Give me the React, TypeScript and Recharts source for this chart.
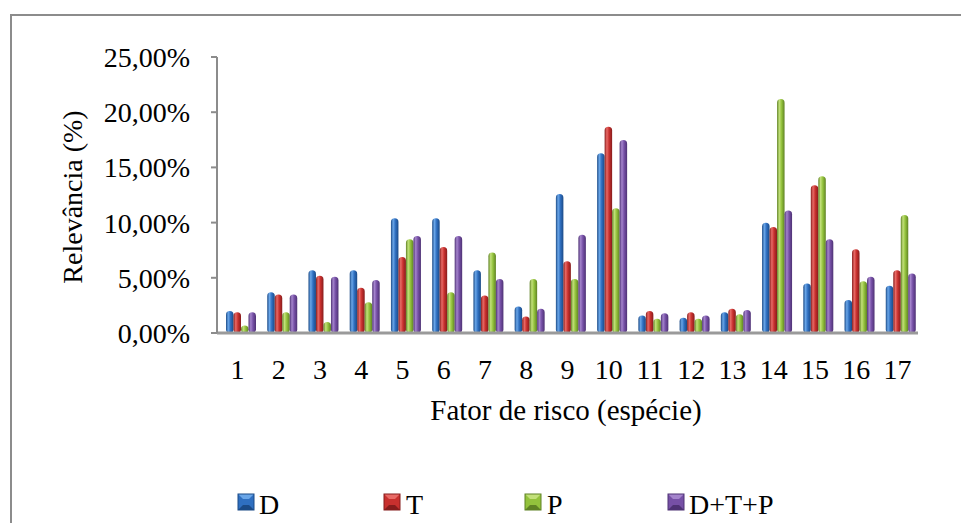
import { BarChart, Bar, XAxis, YAxis } from 'recharts';

const fatores = ['1', '2', '3', '4', '5', '6', '7', '8', '9', '10', '11', '12', '13', '14', '15', '16', '17'];
const serieD = [1.9, 3.6, 5.6, 5.6, 10.3, 10.3, 5.6, 2.3, 12.5, 16.2, 1.5, 1.3, 1.8, 9.9, 4.4, 2.9, 4.2];
const serieT = [1.8, 3.4, 5.1, 4.0, 6.8, 7.7, 3.3, 1.4, 6.4, 18.6, 1.9, 1.8, 2.1, 9.5, 13.3, 7.5, 5.6];
const serieP = [0.6, 1.8, 0.9, 2.7, 8.4, 3.6, 7.2, 4.8, 4.8, 11.2, 1.2, 1.2, 1.6, 21.1, 14.1, 4.6, 10.6];
const serieDTP = [1.8, 3.4, 5.0, 4.7, 8.7, 8.7, 4.8, 2.1, 8.8, 17.4, 1.7, 1.5, 2.0, 11.0, 8.4, 5.0, 5.3];
const yTicks = [0, 5, 10, 15, 20, 25];

const chartData = fatores.map((f, i) => ({
  fator: f,
  D: serieD[i],
  T: serieT[i],
  P: serieP[i],
  DTP: serieDTP[i],
}));

const FONT = '"Liberation Serif", "Times New Roman", serif';

// cores de cada série: escura, clara, base
const cores: Record<string, [string, string, string]> = {
  D: ['#1b4a86', '#6aa6e8', '#2f6fc0'],
  T: ['#861c1c', '#e86a66', '#c8302e'],
  P: ['#5f8224', '#c2e07a', '#93c23c'],
  DTP: ['#4e3274', '#a484cc', '#7650a6'],
};

const legenda = [
  { key: 'D', nome: 'D', xq: 238, xt: 259 },
  { key: 'T', nome: 'T', xq: 384, xt: 406 },
  { key: 'P', nome: 'P', xq: 525, xt: 547 },
  { key: 'DTP', nome: 'D+T+P', xq: 668, xt: 689 },
];

const Cilindro = (props: any) => {
  const { x, y, width, height, gid } = props;
  if (!height || height <= 0) return null;
  const r = width / 2;
  return (
    <rect
      x={x + 3}
      y={y - 1}
      width={width}
      height={height + 1}
      rx={r}
      ry={Math.min(r, (height + 1) / 2)}
      fill={`url(#${gid})`}
    />
  );
};

const formatPct = (v: number) => v.toFixed(2).replace('.', ',') + '%';

export default function App() {
  return (
    <div style={{ position: 'absolute', left: 0, top: 0, width: 961, height: 523, background: '#fff', overflow: 'hidden' }}>
      <div
        style={{
          position: 'absolute',
          left: 10,
          top: 14,
          width: 1000,
          height: 600,
          borderLeft: '2px solid #8c8c8c',
          borderTop: '2px solid #8c8c8c',
        }}
      />
      <div style={{ position: 'absolute', left: 0, top: 0 }}>
        <BarChart
          width={961}
          height={523}
          data={chartData}
          margin={{ top: 57, right: 43, bottom: 150, left: 0 }}
          barGap={0}
          barSize={7.5}
        >
          <defs>
            {Object.keys(cores).map((k) => (
              <linearGradient key={k} id={`grad-${k}`} x1="0" y1="0" x2="1" y2="0">
                <stop offset="0%" stopColor={cores[k][0]} />
                <stop offset="30%" stopColor={cores[k][1]} />
                <stop offset="60%" stopColor={cores[k][2]} />
                <stop offset="100%" stopColor={cores[k][0]} />
              </linearGradient>
            ))}
          </defs>
          <XAxis
            dataKey="fator"
            height={40}
            tickLine={false}
            tickSize={0}
            tickMargin={26}
            axisLine={{ stroke: '#9a9a9a', strokeWidth: 3 }}
            tick={{ fill: '#000', fontSize: 28, fontFamily: FONT }}
            interval={0}
          />
          <YAxis
            width={217}
            domain={[0, 25]}
            ticks={yTicks}
            tickFormatter={formatPct}
            tickSize={6}
            tickMargin={21}
            axisLine={{ stroke: '#8c8c8c', strokeWidth: 2 }}
            tickLine={{ stroke: '#8c8c8c', strokeWidth: 2 }}
            tick={{ fill: '#000', fontSize: 28, fontFamily: FONT }}
          />
          {Object.keys(cores).map((k) => (
            <Bar
              key={k}
              dataKey={k}
              isAnimationActive={false}
              fill={cores[k][2]}
              shape={(p: any) => <Cilindro {...p} gid={`grad-${k}`} />}
            />
          ))}
        </BarChart>
      </div>
      <svg width={961} height={523} style={{ position: 'absolute', left: 0, top: 0, pointerEvents: 'none' }}>
        <text
          x={0}
          y={0}
          transform="translate(72,197) rotate(-90)"
          textAnchor="middle"
          dominantBaseline="central"
          fontFamily={FONT}
          fontSize={28}
          fill="#000"
        >
          Relevância (%)
        </text>
        <text x={566} y={420} textAnchor="middle" fontFamily={FONT} fontSize={29} fill="#000">
          Fator de risco (espécie)
        </text>
        {legenda.map((l) => (
          <g key={l.key}>
            <rect x={l.xq} y={494} width={16} height={16} fill={cores[l.key][2]} />
            <polygon
              points={`${l.xq},494 ${l.xq + 16},494 ${l.xq + 11},499 ${l.xq + 5},499`}
              fill={cores[l.key][1]}
            />
            <polygon
              points={`${l.xq},510 ${l.xq + 16},510 ${l.xq + 11},505 ${l.xq + 5},505`}
              fill={cores[l.key][0]}
            />
            <rect x={l.xq} y={494} width={16} height={16} fill="none" stroke={cores[l.key][0]} strokeWidth={1} />
            <text x={l.xt} y={514} fontFamily={FONT} fontSize={28} fill="#000">
              {l.nome}
            </text>
          </g>
        ))}
      </svg>
    </div>
  );
}
